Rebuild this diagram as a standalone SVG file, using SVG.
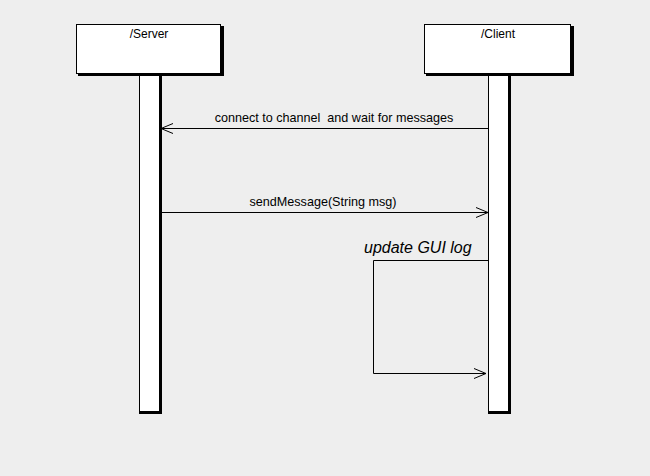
<svg xmlns="http://www.w3.org/2000/svg" width="650" height="476" viewBox="0 0 650 476">
<style>
.bg{fill:#eeeeee}
.box{fill:#ffffff;stroke:#000000;stroke-width:1}
.sh{fill:#000000}
.t{font-family:"Liberation Sans",Arial,sans-serif;font-size:12px;fill:#000000}
.m{font-family:"Liberation Sans",Arial,sans-serif;font-size:12.6px;fill:#000000;white-space:pre}
.i{font-family:"Liberation Sans",Arial,sans-serif;font-size:16px;font-style:italic;fill:#000000}
.ln{fill:none;stroke:#000000;stroke-width:1}
</style>
<defs>
<marker id="open" markerWidth="14" markerHeight="12" refX="13" refY="6" orient="auto" markerUnits="userSpaceOnUse">
<path d="M1,1 L13,6 L1,11" fill="none" stroke="#000000" stroke-width="1"/>
</marker>
</defs>
<rect class="bg" x="0" y="0" width="650" height="476"/>
<g id="server">
<rect class="sh" x="139" y="74" width="23" height="340"/>
<rect fill="#ffffff" x="140" y="74" width="19" height="337"/>
<rect class="sh" x="78" y="26" width="146" height="50"/>
<rect class="box" x="76.5" y="24.5" width="144" height="49"/>
<text class="t" x="149" y="38" text-anchor="middle">/Server</text>
</g>
<g id="client">
<rect class="sh" x="488" y="74" width="23" height="340"/>
<rect fill="#ffffff" x="489" y="74" width="19" height="337"/>
<rect class="sh" x="426" y="26" width="148" height="50"/>
<rect class="box" x="424.5" y="24.5" width="146" height="49"/>
<text class="t" x="498" y="38" text-anchor="middle">/Client</text>
</g>
<g id="connectors">
<line class="ln" x1="488" y1="128.5" x2="161" y2="128.5" marker-end="url(#open)"/>
<text class="m" x="334" y="122" text-anchor="middle" xml:space="preserve">connect to channel  and wait for messages</text>
<line class="ln" x1="162" y1="212.5" x2="488" y2="212.5" marker-end="url(#open)"/>
<text class="m" x="323" y="206" text-anchor="middle">sendMessage(String msg)</text>
<polyline class="ln" points="488,260.5 373.5,260.5 373.5,373.5 486,373.5" marker-end="url(#open)"/>
<text class="i" x="364" y="253">update GUI log</text>
</g>
</svg>
